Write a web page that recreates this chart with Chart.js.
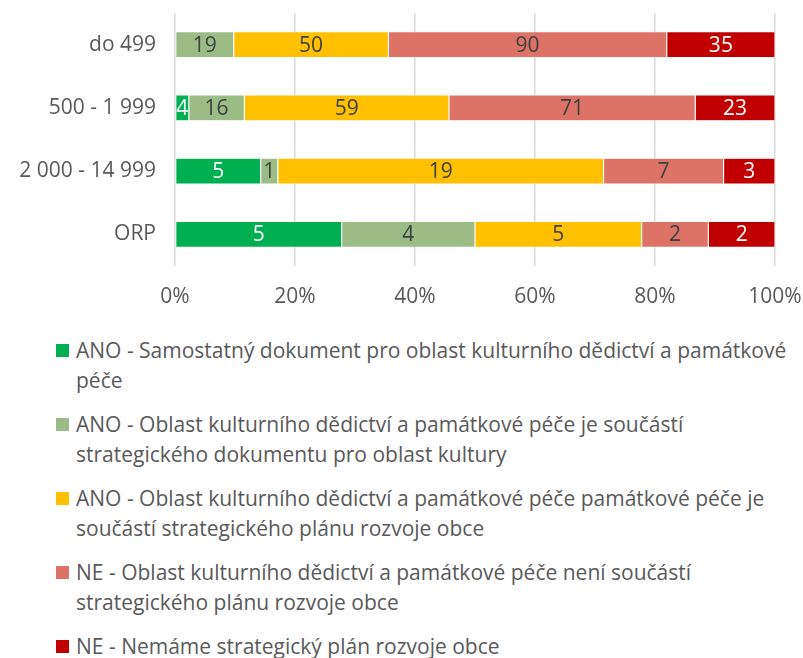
<!DOCTYPE html>
<html>
<head>
<meta charset="utf-8">
<script src="https://cdn.jsdelivr.net/npm/chart.js@4.4.0/dist/chart.umd.min.js"></script>
<style>
  body { margin: 0; background: #fff; width: 803px; height: 658px; overflow: hidden; font-family: "Open Sans", sans-serif; }
  #wrap { position: relative; width: 803px; height: 322px; }
  #legend { position: absolute; left: 56px; top: 336px; width: 745px; color: #595959; font-size: 21px; line-height: 29.5px; }
  .item { display: flex; align-items: flex-start; margin-bottom: 15px; }
  .box { width: 13px; height: 13px; flex: none; margin-top: 8px; margin-right: 7px; }
</style>
</head>
<body>
<div id="wrap"><canvas id="chart"></canvas></div>
<div id="legend"></div>
<script>
// categories (rows) and answer groups
const categories = ["do 499", "500 - 1 999", "2 000 - 14 999", "ORP"];
const seriesNames = [
    "ANO - Samostatný dokument pro oblast kulturního dědictví a památkové péče",
    "ANO - Oblast kulturního dědictví a památkové péče je součástí strategického dokumentu pro oblast kultury",
    "ANO - Oblast kulturního dědictví a památkové péče památkové péče je součástí strategického plánu rozvoje obce",
    "NE - Oblast kulturního dědictví a památkové péče není součástí strategického plánu rozvoje obce",
    "NE - Nemáme strategický plán rozvoje obce"
];

// counts per row
const anoSamostatny = [0, 4, 5, 5];
const anoKultura = [19, 16, 1, 4];
const anoPlan = [50, 59, 19, 5];
const neNeniSoucasti = [90, 71, 7, 2];
const neNemame = [35, 23, 3, 2];

const tickLabels = ["0%", "20%", "40%", "60%", "80%", "100%"];

const barColors = ["#00b050", "#9cbc85", "#ffc000", "#dd7366", "#c00000"];
const labelColors = ["#ffffff", "#404040", "#404040", "#404040", "#ffffff"];

const allCounts = [anoSamostatny, anoKultura, anoPlan, neNeniSoucasti, neNemame];
var totals = categories.map((c, i) => allCounts.reduce((s, arr) => s + arr[i], 0));

var datasets = allCounts.map((arr, k) => ({
    label: seriesNames[k],
    data: arr.map((v, i) => v / totals[i] * 100),
    counts: arr,
    labelColor: labelColors[k],
    backgroundColor: barColors[k],
    borderColor: "#ffffff",
    borderWidth: 0.6,
    borderSkipped: false,
    barPercentage: 0.82,
    categoryPercentage: 0.5
}));

// draws the counts into each segment
const valueLabels = {
    id: "valueLabels",
    afterDatasetsDraw(chart) {
        var ctx = chart.ctx;
        ctx.save();
        ctx.font = '21px "Open Sans"';
        ctx.textAlign = "center";
        ctx.textBaseline = "middle";
        chart.data.datasets.forEach((ds, di) => {
            chart.getDatasetMeta(di).data.forEach((bar, i) => {
                var v = ds.counts[i];
                if (!v) {return};
                ctx.fillStyle = ds.labelColor;
                ctx.fillText(v, (bar.x + bar.base) / 2, bar.y + 1);
            });
        });
        ctx.restore();
    }
};

new Chart("chart", {
    type: "bar",
    data: { labels: categories, datasets: datasets },
    plugins: [valueLabels],
    options: {
        indexAxis: "y",
        responsive: true,
        maintainAspectRatio: false,
        animation: false,
        layout: { padding: { top: 13, right: 28, left: 0, bottom: 0 } },
        plugins: {
            legend: { display: false },
            tooltip: { enabled: false }
        },
        scales: {
            x: {
                stacked: true,
                min: 0,
                max: 100,
                ticks: {
                    stepSize: 20,
                    color: "#595959",
                    font: { family: "Open Sans", size: 21 },
                    padding: 18,
                    callback: (v, i) => tickLabels[i]
                },
                grid: { color: "#d9d9d9", lineWidth: 1.5, drawTicks: false },
                border: { display: false },
                afterFit: (scale) => {
                    scale.height = 322 - 13 - 253;
                    scale.paddingLeft = 0;
                    scale.paddingRight = 0;
                }
            },
            y: {
                stacked: true,
                ticks: {
                    color: "#595959",
                    font: { family: "Open Sans", size: 21 },
                    padding: 19
                },
                grid: { display: false, drawTicks: false },
                border: { display: false },
                afterFit: (scale) => {
                    scale.width = 175;
                    scale.paddingTop = 0;
                    scale.paddingBottom = 0;
                }
            }
        }
    }
});

// html legend, so the long names can wrap
var legend = document.getElementById("legend");
seriesNames.forEach((name, k) => {
    legend.innerHTML += `<div class="item"><span class="box" style="background:${barColors[k]}"></span><span>${name}</span></div>`;
});
</script>
</body>
</html>
